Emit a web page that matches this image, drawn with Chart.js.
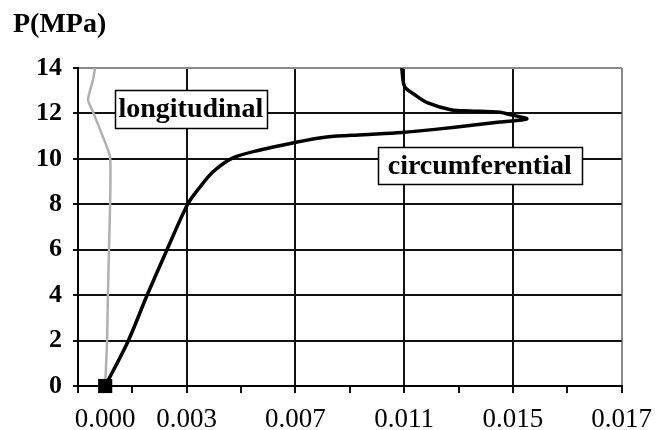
<!DOCTYPE html>
<html>
<head>
<meta charset="utf-8">
<script src="https://cdn.jsdelivr.net/npm/chart.js@4.4.1/dist/chart.umd.min.js"></script>
<style>
  body { margin: 0; background: #fff; }
</style>
</head>
<body>
<canvas id="grafico" width="663" height="430"></canvas>
<script>
// --- datos ---
const circStrain = [0, 0.00083, 0.00153, 0.00227, 0.00304, 0.00349, 0.00396, 0.0047, 0.0057, 0.0069, 0.00815, 0.0095, 0.01091, 0.01231, 0.01341, 0.01452, 0.01551, 0.01496, 0.01452, 0.01341, 0.01275, 0.01187, 0.01139, 0.01102, 0.01091];
const circP      = [0, 1.94, 3.96, 5.99, 8.01, 8.76, 9.42, 10.04, 10.39, 10.7, 10.96, 11.06, 11.16, 11.32, 11.47, 11.62, 11.76, 11.93, 12.05, 12.11, 12.15, 12.46, 12.82, 13.17, 14.0];

const longStrain = [0, 0.00007, 0.0001, 0.00014, 0.00018, 0.00018, -0.00008, -0.00045, -0.00063, -0.00045, -0.00037];
const longP      = [0, 2, 4, 6, 8, 10.08, 10.96, 12.07, 12.6, 13.47, 14.0];

const origen = [{ x: 0, y: 0 }];

const xTickValues = [-0.001, 0, 0.001, 0.003, 0.005, 0.007, 0.009, 0.011, 0.013, 0.015, 0.017, 0.019];
const xTickLabels = ["", "0.000", "", "0.003", "", "0.007", "", "0.011", "", "0.015", "", "0.017"];
const xMajor      = [0.003, 0.007, 0.011, 0.015];
const yTicks = [0, 2, 4, 6, 8, 10, 12, 14];

const etiquetas = [
  { text: "longitudinal", x: 0.00315, y: 12.2, w: 152, h: 38 },
  { text: "circumferential", x: 0.01378, y: 9.71, w: 204, h: 37 }
];

const serif = "'Liberation Serif', 'Times New Roman', serif";

function toPoints(xs, ys) {
  return xs.map((x, i) => ({ x, y: ys[i] }));
}

function isMajor(v) {
  return xMajor.some(m => Math.abs(m - v) < 1e-9);
}

// --- cajas de texto y titulo del eje ---
const anotaciones = {
  id: "anotaciones",
  afterDatasetsDraw(chart) {
    const { ctx, scales } = chart;
    ctx.save();
    etiquetas.forEach(e => {
      const cx = scales.x.getPixelForValue(e.x);
      const cy = scales.y.getPixelForValue(e.y);
      const left = Math.round(cx - e.w / 2) + 0.5;
      const top = Math.round(cy - e.h / 2) + 0.5;
      ctx.fillStyle = "#fff";
      ctx.fillRect(left, top, e.w, e.h);
      ctx.strokeStyle = "#000";
      ctx.lineWidth = 1.5;
      ctx.strokeRect(left, top, e.w, e.h);
      ctx.fillStyle = "#000";
      ctx.font = "bold 28px " + serif;
      ctx.textAlign = "center";
      ctx.textBaseline = "middle";
      ctx.fillText(e.text, cx, cy + 1);
    });
    ctx.font = "bold 28px " + serif;
    ctx.textAlign = "left";
    ctx.textBaseline = "alphabetic";
    ctx.fillText("P(MPa)", 13, 32);
    ctx.restore();
  }
};

window.addEventListener("DOMContentLoaded", () => {
  const ctx = document.getElementById("grafico");

  new Chart(ctx, {
    type: "scatter",
    data: {
      datasets: [
        {
          label: "origen",
          data: origen,
          pointStyle: "rect",
          pointRadius: 10,
          borderWidth: 0,
          backgroundColor: "#000",
          borderColor: "#000",
          showLine: false,
          clip: false
        },
        {
          label: "circumferential",
          data: toPoints(circStrain, circP),
          showLine: true,
          borderColor: "#000",
          borderWidth: 3.5,
          pointRadius: 0,
          tension: 0.3
        },
        {
          label: "longitudinal",
          data: toPoints(longStrain, longP),
          showLine: true,
          borderColor: "#b0b0b0",
          borderWidth: 2.5,
          pointRadius: 0,
          tension: 0.2
        }
      ]
    },
    options: {
      responsive: false,
      maintainAspectRatio: false,
      animation: false,
      layout: { padding: { top: 68, right: 41, left: 0, bottom: 0 } },
      plugins: {
        legend: { display: false },
        tooltip: { enabled: false }
      },
      scales: {
        x: {
          type: "linear",
          min: -0.001,
          max: 0.019,
          afterBuildTicks: s => { s.ticks = xTickValues.map(v => ({ value: v })); },
          afterFit: s => { s.height = 44; },
          border: { display: true, color: "#000", width: 2 },
          grid: {
            lineWidth: 2,
            tickLength: 7,
            color: c => {
              const v = c.tick ? c.tick.value : null;
              if (v === null) return "rgba(0,0,0,0)";
              if (Math.abs(v - 0.019) < 1e-9) return "#8a8a8a";
              return isMajor(v) ? "#111" : "rgba(0,0,0,0)";
            },
            tickColor: c => (c.tick && c.tick.value === 0) ? "rgba(0,0,0,0)" : "#111"
          },
          ticks: {
            autoSkip: false,
            maxRotation: 0,
            padding: 11,
            color: "#000",
            font: { family: serif, size: 27 },
            callback: (v) => {
              const i = xTickValues.findIndex(t => Math.abs(t - v) < 1e-9);
              return i >= 0 ? xTickLabels[i] : "";
            }
          }
        },
        y: {
          min: 0,
          max: 14,
          afterBuildTicks: s => { s.ticks = yTicks.map(v => ({ value: v })); },
          afterFit: s => { s.width = 78; },
          border: { display: true, color: "#000", width: 2 },
          grid: {
            lineWidth: 2,
            tickLength: 5,
            color: c => (c.tick && c.tick.value === 14) ? "#8a8a8a" : "#111",
            tickColor: "#111"
          },
          ticks: {
            padding: 11,
            color: "#000",
            font: { family: serif, size: 26, weight: "bold" }
          }
        }
      }
    },
    plugins: [anotaciones]
  });
});
</script>
</body>
</html>
